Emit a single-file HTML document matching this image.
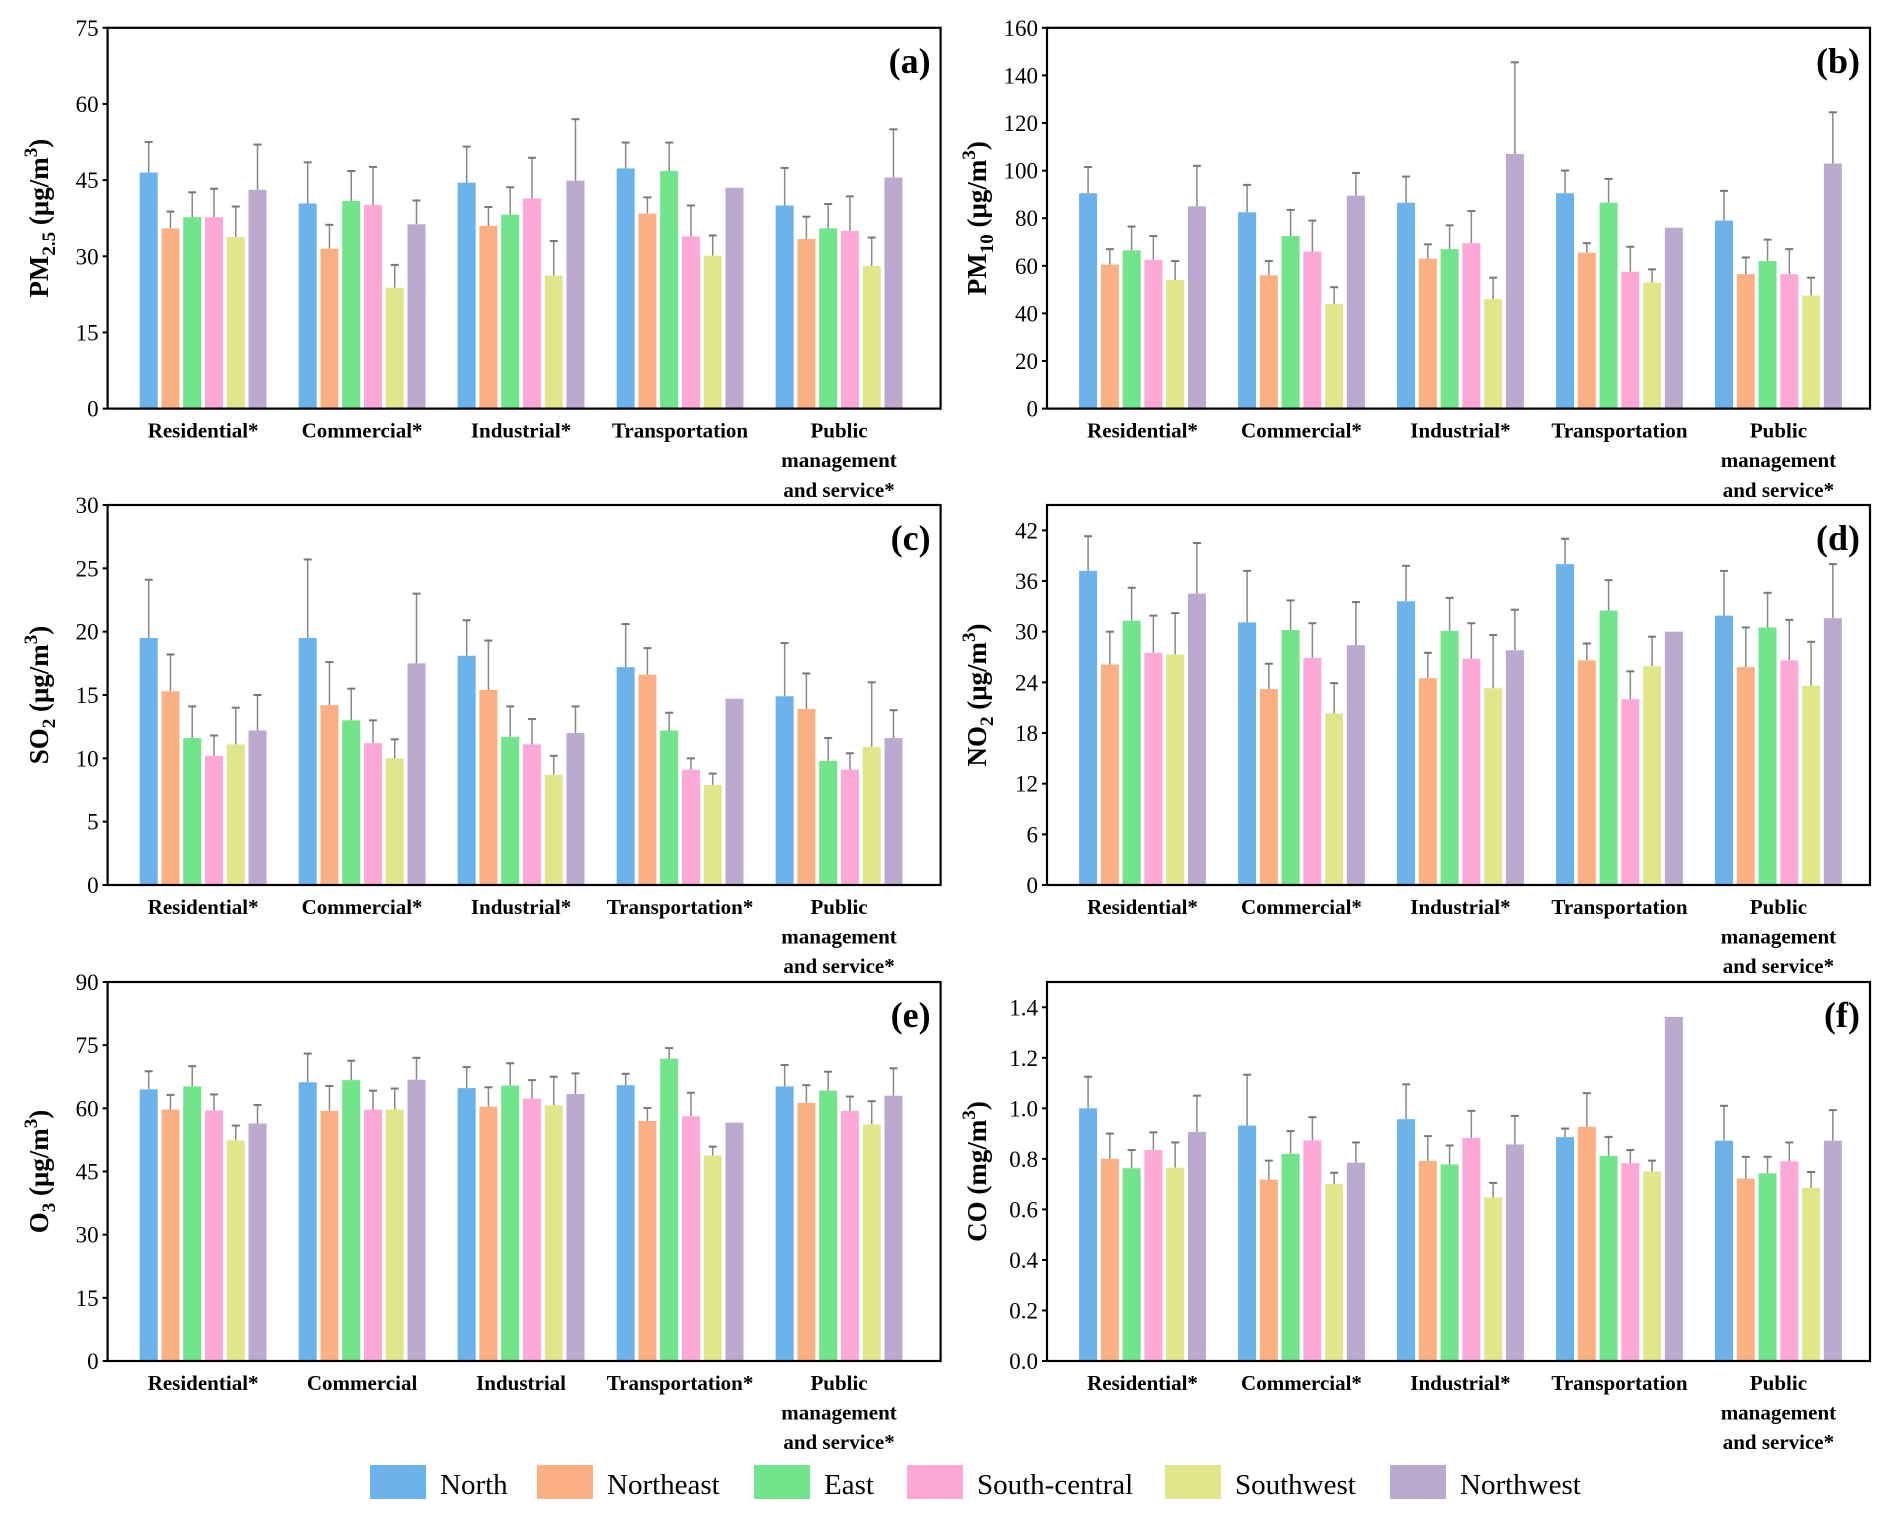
<!DOCTYPE html>
<html><head><meta charset="utf-8"><style>
html,body{margin:0;padding:0;background:#fff}
svg{display:block}
svg text{font-family:"Liberation Serif","Times New Roman",serif !important}
</style></head><body>
<svg id="fig" width="1892" height="1517" viewBox="0 0 1892 1517" xmlns="http://www.w3.org/2000/svg" font-family="Liberation Serif, Times New Roman, serif"></svg>
<script>
const regions = ["North","Northeast","East","South-central","Southwest","Northwest"];
const colors = ["#6cb3ec","#fbb084","#72e48c","#fca9d7","#e2e68a","#bba9cf"];
const catsA = ["Residential*","Commercial*","Industrial*","Transportation","Public|management|and service*"];
const catsC = ["Residential*","Commercial*","Industrial*","Transportation*","Public|management|and service*"];
const catsE = ["Residential*","Commercial","Industrial","Transportation*","Public|management|and service*"];
const pm25 = [[46.5,35.5,37.7,37.7,33.8,43.1],[40.4,31.5,40.9,40.1,23.8,36.3],[44.5,36,38.2,41.4,26.2,44.9],[47.3,38.4,46.8,33.9,30.1,43.5],[40,33.4,35.5,35,28.1,45.5]];
const pm25Err = [[52.5,38.8,42.6,43.3,39.8,52],[48.5,36.2,46.8,47.6,28.3,41],[51.6,39.7,43.6,49.4,33,57],[52.4,41.6,52.4,40,34.1,43.5],[47.4,37.8,40.3,41.8,33.7,55]];
const pm10 = [[90.5,60.5,66.5,62.5,54,85],[82.5,56,72.5,66,44,89.5],[86.5,63,67,69.5,46,107],[90.5,65.5,86.5,57.5,53,76],[79,56.5,62,56.5,47.5,103]];
const pm10Err = [[101.5,67,76.5,72.5,62,102],[94,62,83.5,79,51,99],[97.5,69,77,83,55,145.5],[100,69.5,96.5,68,58.5,76],[91.5,63.5,71,67,55,124.5]];
const so2 = [[19.5,15.3,11.6,10.2,11.1,12.2],[19.5,14.2,13,11.2,10,17.5],[18.1,15.4,11.7,11.1,8.7,12],[17.2,16.6,12.2,9.1,7.9,14.7],[14.9,13.9,9.8,9.1,10.9,11.6]];
const so2Err = [[24.1,18.2,14.1,11.8,14,15],[25.7,17.6,15.5,13,11.5,23],[20.9,19.3,14.1,13.1,10.2,14.1],[20.6,18.7,13.6,10,8.8,14.7],[19.1,16.7,11.6,10.4,16,13.8]];
const no2 = [[37.2,26.1,31.3,27.5,27.3,34.5],[31.1,23.2,30.2,26.9,20.3,28.4],[33.6,24.5,30.1,26.8,23.3,27.8],[38,26.6,32.5,22,25.9,30],[31.9,25.8,30.5,26.6,23.6,31.6]];
const no2Err = [[41.3,30,35.2,31.9,32.2,40.5],[37.2,26.2,33.7,31,23.9,33.5],[37.8,27.5,34,31,29.6,32.6],[41,28.6,36.1,25.3,29.4,30],[37.2,30.5,34.6,31.4,28.8,38]];
const o3 = [[64.5,59.7,65.2,59.5,52.4,56.4],[66.2,59.4,66.7,59.7,59.7,66.8],[64.8,60.4,65.4,62.3,60.7,63.4],[65.5,57,71.8,58.1,48.8,56.6],[65.2,61.3,64.2,59.4,56.2,63]];
const o3Err = [[68.8,63.2,70,63.3,55.9,60.8],[73,65.3,71.3,64.2,64.7,72],[69.8,65,70.7,66.7,67.5,68.3],[68.2,60.1,74.3,63.7,50.9,56.6],[70.3,65.5,68.7,62.8,61.7,69.5]];
const co = [[1.0,0.80,0.763,0.835,0.765,0.907],[0.932,0.718,0.82,0.873,0.70,0.785],[0.957,0.792,0.778,0.883,0.648,0.857],[0.886,0.927,0.812,0.783,0.75,1.362],[0.872,0.722,0.743,0.79,0.685,0.872]];
const coErr = [[1.125,0.90,0.835,0.905,0.865,1.05],[1.133,0.793,0.91,0.965,0.745,0.865],[1.095,0.89,0.853,0.99,0.705,0.97],[0.92,1.06,0.887,0.835,0.793,1.362],[1.01,0.808,0.808,0.865,0.748,0.993]];
const ticksA = [0,15,30,45,60,75];
const ticksB = [0,20,40,60,80,100,120,140,160];
const ticksC = [0,5,10,15,20,25,30];
const ticksD = [0,6,12,18,24,30,36,42];
const ticksE = [0,15,30,45,60,75,90];
const ticksF = ["0.0","0.2","0.4","0.6","0.8","1.0","1.2","1.4"];

const NS="http://www.w3.org/2000/svg";
const svg=document.getElementById('fig');
function mk(tag,attrs,parent){const e=document.createElementNS(NS,tag);for(const k in attrs)e.setAttribute(k,attrs[k]);(parent||svg).appendChild(e);return e;}
const S=1.209;
const FF='Liberation Serif, Times New Roman, serif';
const panels=[
 {id:'a',col:0,row:0,vals:pm25,errs:pm25Err,max:75,ticks:ticksA,cats:catsA,title:['PM','2.5',' (μg/m','3',')']},
 {id:'b',col:1,row:0,vals:pm10,errs:pm10Err,max:160,ticks:ticksB,cats:catsA,title:['PM','10',' (μg/m','3',')']},
 {id:'c',col:0,row:1,vals:so2,errs:so2Err,max:30,ticks:ticksC,cats:catsC,title:['SO','2',' (μg/m','3',')']},
 {id:'d',col:1,row:1,vals:no2,errs:no2Err,max:45,ticks:ticksD,cats:catsA,title:['NO','2',' (μg/m','3',')']},
 {id:'e',col:0,row:2,vals:o3,errs:o3Err,max:90,ticks:ticksE,cats:catsE,title:['O','3',' (μg/m','3',')']},
 {id:'f',col:1,row:2,vals:co,errs:coErr,max:1.5,ticks:ticksF,cats:catsA,title:['CO',null,' (mg/m','3',')']}
];
const lefts=[107.6,1047],rights=[940.6,1870],tops=[27.8,505,982],bottoms=[408.6,885,1361];
panels.forEach(p=>{
 const L=lefts[p.col],R=rights[p.col],T=tops[p.row],B=bottoms[p.row];
 const g=mk('g',{'font-family':FF});
 
 
 const y=v=>B-(v/p.max)*(B-T);
 const gx=i=>L+(79+i*131.5)*S;
 p.ticks.forEach(t=>{
  const v=parseFloat(t);
  const tl=mk('text',{x:L-9,y:y(v)+8,'text-anchor':'end','font-size':23,'font-family':FF},g);
  tl.textContent=t;
  
  
  mk('line',{x1:L-5,x2:L,y1:y(v),y2:y(v),stroke:'#000','stroke-width':2},g);
 });
 p.vals.forEach((row,i)=>{
  row.forEach((v,j)=>{
   const cx=gx(i)+(j-2.5)*18*S;
   const e=p.errs[i][j];
   if(e>v+0.0001){
    const l=mk('line',{x1:cx,x2:cx,y1:y(e),y2:y(v),stroke:'#888','stroke-width':1.5},g);
    
    
    mk('line',{x1:cx-4,x2:cx+4,y1:y(e),y2:y(e),stroke:'#777','stroke-width':2},g);
   }
   const r=mk('rect',{x:cx-9,y:y(v),width:18,height:B-y(v),fill:colors[j]},g);
   
   
  });
  const lines=p.cats[i].split('|');
  lines.forEach((ln,k)=>{
   const t=mk('text',{x:gx(i),y:B+29+k*29.6,'text-anchor':'middle','font-size':21,'font-weight':'bold','font-family':FF},g);
   t.textContent=ln;
   
   
  });
 });
 const fr=mk('rect',{x:L,y:T,width:R-L,height:B-T,fill:'none',stroke:'#000','stroke-width':2.2},g);
 
 
 const pl=mk('text',{x:R-10,y:T+45,'text-anchor':'end','font-size':36,'font-weight':'bold','font-family':FF},g);
 pl.textContent='('+p.id+')';
 
 
 const tx=p.col===0?48:986, ty=(T+B)/2;
 const tt=mk('text',{transform:`translate(${tx},${ty}) rotate(-90)`,'text-anchor':'middle','font-size':27,'font-weight':'bold','font-family':FF},g);
 
 
 const [a,sub,b,sup,c]=p.title;
 let s=mk('tspan',{},tt);s.textContent=a;
 if(sub){s=mk('tspan',{dy:7,'font-size':19},tt);s.textContent=sub;s=mk('tspan',{dy:-7},tt);s.textContent=b;}
 else{s=mk('tspan',{},tt);s.textContent=b;}
 s=mk('tspan',{dy:-11,'font-size':19},tt);s.textContent=sup;
 s=mk('tspan',{dy:11},tt);s.textContent=c;
});
const lx=[370,537,754,907,1165,1390];
const lg=mk('g',{'font-family':FF});


regions.forEach((r,j)=>{
 const sw=mk('rect',{x:lx[j],y:1465,width:56,height:34,fill:colors[j]},lg);
 
 
 const t=mk('text',{x:lx[j]+70,y:1494,'font-size':29,'font-family':FF},lg);
 t.textContent=r;
 
 
});
</script>
</body></html>
